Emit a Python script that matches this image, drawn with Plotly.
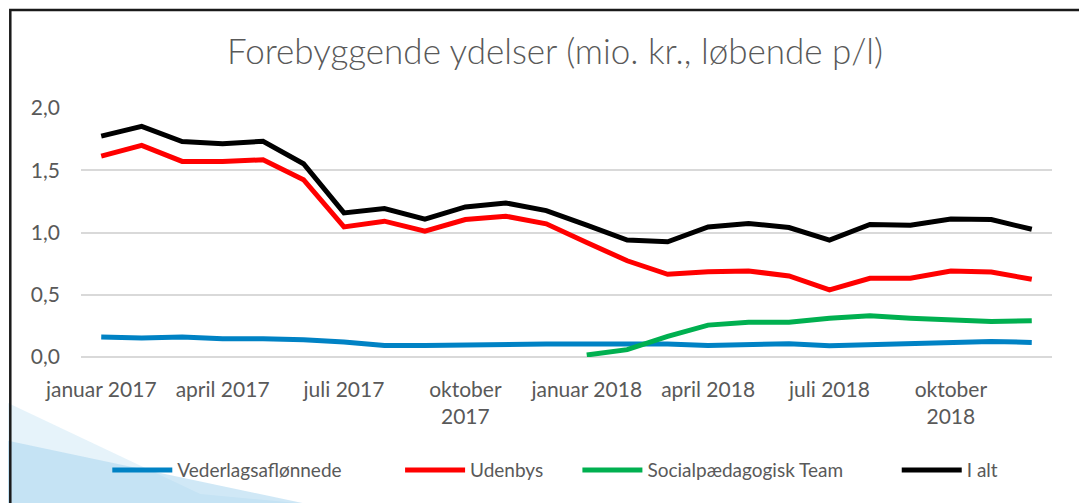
import plotly.graph_objects as go

# Months Jan 2017 - Dec 2018
months = ["januar", "februar", "marts", "april", "maj", "juni", "juli",
          "august", "september", "oktober", "november", "december"]
categories = [f"{m} {y}" for y in (2017, 2018) for m in months]

tick_vals = [categories[i] for i in range(0, 24, 3)]
tick_text = ["januar 2017", "april 2017", "juli 2017", "oktober<br>2017",
             "januar 2018", "april 2018", "juli 2018", "oktober<br>2018"]

vederlag = [0.16, 0.152, 0.16, 0.147, 0.147, 0.139, 0.12, 0.093, 0.093, 0.099, 0.104, 0.104,
            0.104, 0.104, 0.104, 0.093, 0.099, 0.107, 0.091, 0.099, 0.099, 0.107, 0.125, 0.117]
udenbys = [1.614, 1.70, 1.571, 1.571, 1.584, 1.424, 1.045, 1.091, 1.011, 1.104, 1.131, 1.07,
           0.92, 0.773, 0.664, 0.685, 0.691, 0.651, 0.539, 0.632, 0.632, 0.691, 0.683, 0.624]
socialpaed = [None] * 12 + [0.016, 0.059, 0.165, 0.256, 0.28, 0.28,
                            0.312, 0.331, 0.312, 0.299, 0.285, 0.291]
i_alt = [1.774, 1.852, 1.731, 1.712, 1.733, 1.552, 1.157, 1.192, 1.107, 1.205, 1.237, 1.176,
         1.059, 0.939, 0.925, 1.045, 1.072, 1.04, 0.939, 1.064, 1.059, 1.109, 1.104, 1.026]

# legend names padded with non-breaking spaces to spread the entries like the original
NB = "\u00a0"
series = [
    ("Vederlagsaflønnede", NB * 11, vederlag, "#0082C4"),
    ("Udenbys", NB * 6, udenbys, "#FF0000"),
    ("Socialpædagogisk Team", NB * 10, socialpaed, "#00B050"),
    ("I alt", "", i_alt, "#000000"),
]

fig = go.Figure()
for name, pad, vals, color in series:
    fig.add_trace(go.Scatter(
        x=categories, y=vals, name=name + pad, mode="lines",
        line=dict(color=color, width=5),
        hovertemplate=name + ": %{y:.2f}<extra></extra>",
    ))

# page pixel -> paper helpers for decorations (plot area 80.7..1051.7 x, 107.5..357.5 y)
def px(x):
    return (x - 80.7) / 971

def py(y):
    return (357.5 - y) / 250

# the html page adds an 8px body margin, so the figure is drawn 8px smaller
fig.update_layout(
    width=1079, height=495,
    margin=dict(l=72.7, r=35.3, t=99.5, b=145.5),
    paper_bgcolor="white", plot_bgcolor="rgba(0,0,0,0)",
    separators=",.",
    font=dict(family="Lato, 'Open Sans', sans-serif", color="#595959", size=21),
    title=dict(
        text="Forebyggende ydelser (mio. kr., løbende p/l)",
        x=(555 - 8) / 1079, xref="container", xanchor="center",
        y=1 - 44 / 495, yref="container", yanchor="middle",
        font=dict(size=35, color="#595959", weight=300),
    ),
    xaxis=dict(
        type="category", range=[-0.5, len(categories) - 0.5],
        tickmode="array", tickvals=tick_vals, ticktext=tick_text,
        showgrid=False, showline=False, ticks="", tickangle=0,
        ticklabelstandoff=18,
    ),
    yaxis=dict(
        range=[0, 2], dtick=0.5, tickformat=".1f",
        showgrid=True, gridcolor="#D9D9D9", gridwidth=1.5,
        zeroline=True, zerolinecolor="#D9D9D9", zerolinewidth=1.5,
        showline=False, ticks="", ticklabelstandoff=20,
    ),
    legend=dict(
        orientation="h", x=px(555), xanchor="center", y=py(471), yanchor="middle",
        font=dict(size=19, color="#595959"), itemwidth=60, tracegroupgap=0,
        bgcolor="rgba(0,0,0,0)",
    ),
    shapes=[
        # slide background swoosh, bottom-left
        dict(type="path", xref="paper", yref="paper", layer="below",
             path=f"M {px(0)},{py(400)} L {px(0)},{py(510)} L {px(360)},{py(510)} L {px(200)},{py(495)} Z",
             fillcolor="rgba(200,228,244,0.45)", line=dict(width=0)),
        dict(type="path", xref="paper", yref="paper", layer="below",
             path=f"M {px(0)},{py(440)} L {px(0)},{py(510)} L {px(330)},{py(510)} Z",
             fillcolor="rgba(170,214,238,0.55)", line=dict(width=0)),
        # chart frame
        dict(type="path", xref="paper", yref="paper",
             path=f"M {px(10)},{py(520)} L {px(10)},{py(9)} L {px(1100)},{py(9)}",
             line=dict(color="#1a1a1a", width=2.5)),
    ],
)

fig.write_html("out.html")
